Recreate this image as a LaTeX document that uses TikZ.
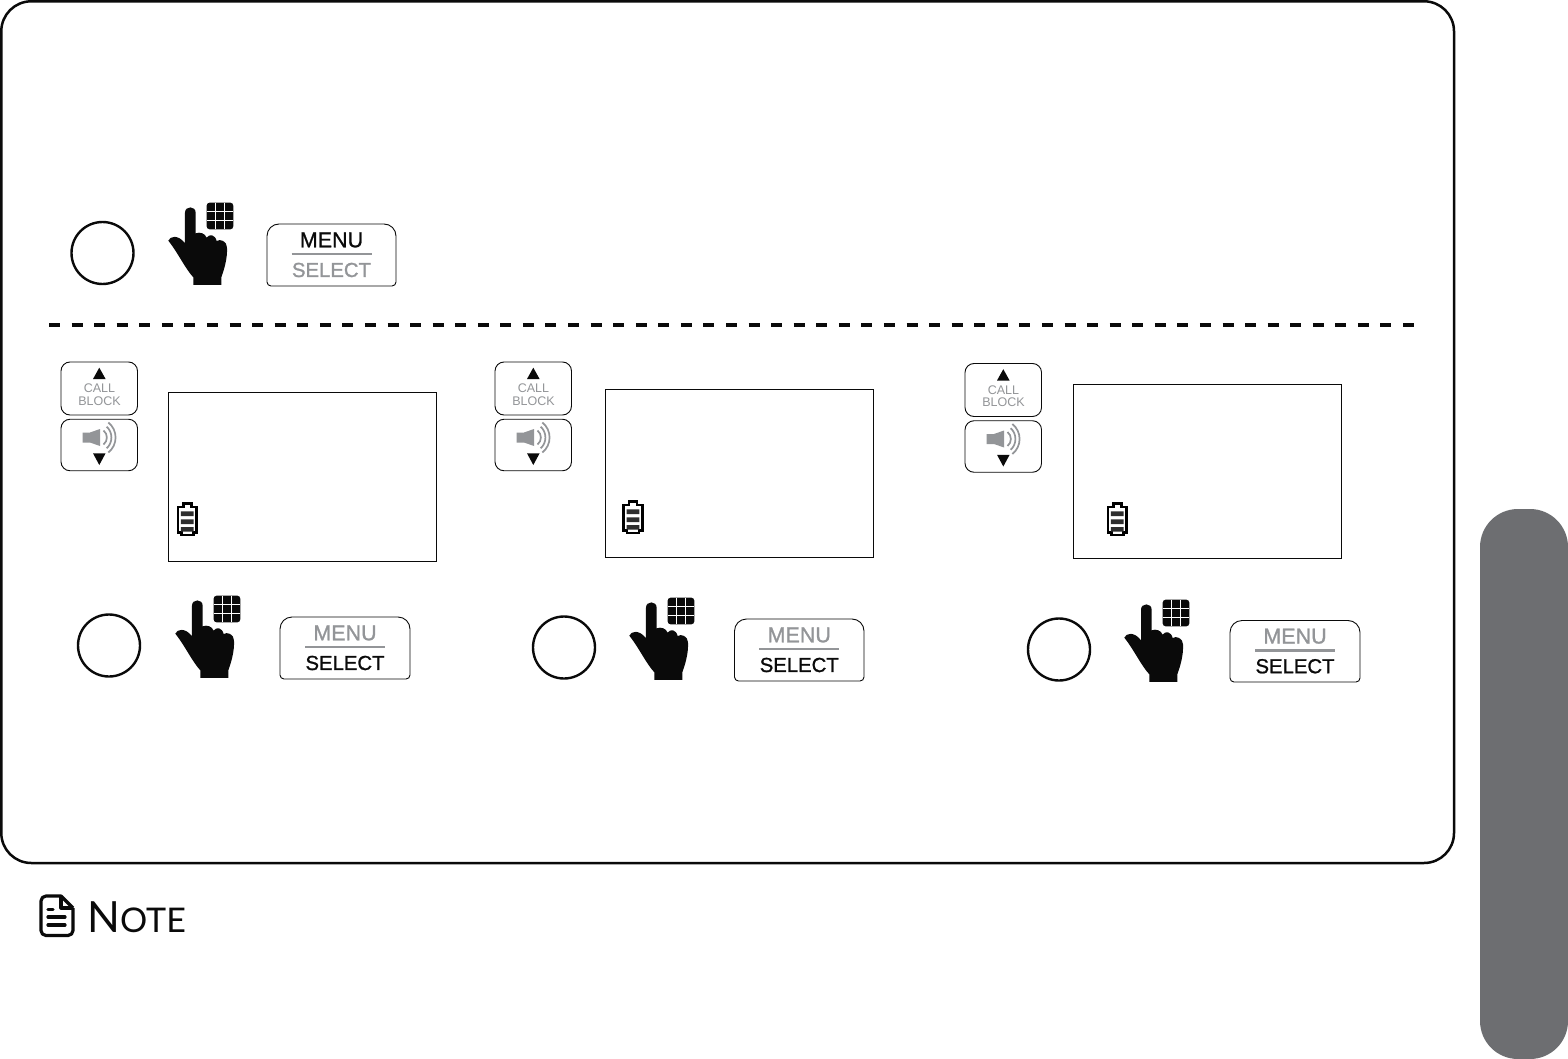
\documentclass[tikz,border=0pt]{standalone}
\usepackage{fontspec}
\setmainfont{Liberation Sans}
\newfontfamily\notefont{Lato}
\newfontfamily\keyfont[FakeBold=1.1]{Liberation Sans}
\definecolor{kgrey}{HTML}{939598}
\definecolor{tabgrey}{HTML}{6D6E71}
\definecolor{ink}{HTML}{0A0A0A}
\newcommand{\handicon}[2]{%
  \begin{scope}[shift={(#1,#2)},x=0.3333pt,y=-0.3333pt]
    \fill[ink] (405,68) .. controls (405,47) and (437,47) .. (437,68) -- (437,130)
      .. controls (450,125) and (465,130) .. (470,143)
      .. controls (478,131) and (495,133) .. (500,153)
      .. controls (510,146) and (531,153) .. (531,172)
      .. controls (533,205) and (522,240) .. (514,262)
      -- (514,285) -- (430,285) -- (430,262)
      .. controls (405,235) and (385,190) .. (355,152)
      .. controls (360,138) and (385,133) .. (405,160) -- cycle;
    \fill[ink,rounded corners=3pt] (470,38) rectangle (550,118);
    \draw[white,line width=1.1pt] (497,38) -- (497,118) (523,38) -- (523,118)
      (470,65) -- (550,65) (470,92) -- (550,92);
  \end{scope}}
\newcommand{\keybox}[6]{% name,x1,y1,x2,y2,labels
  \draw[keyline] (#2,#3+25) [rounded corners=12pt] -- (#2,#3) -- (#4,#3) -- (#4,#3+25)
    [rounded corners=4pt] -- (#4,#5) -- (#2,#5) -- cycle;
  \coordinate (#1) at ({(#2+#4)/2},{(#3+#5)/2});
  #6}
\newcommand{\menutop}[1]{%
  \node[menulabel,text=ink] (#1m) at ([yshift=15pt]#1) {MENU};
  \node[selectlabel,text=kgrey] (#1s) at ([yshift=-15pt]#1) {SELECT};
  \draw[kgrey,line width=2.6pt] ([xshift=-40pt,yshift=1pt]#1) -- ([xshift=40pt,yshift=1pt]#1);}
\newcommand{\menubot}[1]{%
  \node[menulabel,text=kgrey] (#1m) at ([yshift=15pt]#1) {MENU};
  \node[selectlabel,text=ink] (#1s) at ([yshift=-15pt]#1) {SELECT};
  \draw[kgrey,line width=2.6pt] ([xshift=-40pt,yshift=1pt]#1) -- ([xshift=40pt,yshift=1pt]#1);}
\newcommand{\navkeys}[3]{% name,x,y top
  \begin{scope}[shift={(#2,#3)}]
    \node[navbtn,minimum height=53pt] (#1u) at (38.25,26.5) {};
    \node[navbtn,minimum height=51.5pt] (#1d) at (38.25,83) {};
    \fill[ink] (38.3,5.7) -- (44.6,17) -- (32,17) -- cycle;
    \node[kgreytext] (#1t) at (38.5,32.5) {CALL\\BLOCK};
    \fill[kgrey] (21.5,70.5) -- (29,70.5) -- (39,67) -- (39,84) -- (29,80.5) -- (21.5,80.5) -- cycle;
    \draw[kgrey,line width=1.7pt] (42.5,68.5) .. controls (47,72) and (47,79) .. (42.5,82.5);
    \draw[kgrey,line width=1.7pt] (45.6,64.7) .. controls (52,70) and (52,81) .. (45.6,86.3);
    \draw[kgrey,line width=1.7pt] (47.3,60.5) .. controls (57,68) and (57,83) .. (47.3,90.5);
    \fill[ink] (38.3,103) -- (44.6,91.3) -- (32,91.3) -- cycle;
  \end{scope}}
\newcommand{\batt}[2]{%
  \begin{scope}[shift={(#1,#2)},x=0.3333pt,y=-0.3333pt]
    \draw[black,line width=2.5pt] (2,12) -- (18,12) -- (18,2) -- (42,2) -- (42,12) -- (58,12)
      -- (58,88) -- (48,88) -- (48,96) -- (12,96) -- (12,88) -- (2,88) -- cycle;
    \fill[black!82] (11,25) rectangle (49,39) (11,49) rectangle (49,63) (11,72) rectangle (49,86);
  \end{scope}}
\tikzset{
  keyline/.style={draw=ink,line width=0.9pt},
  screen/.style={draw=ink,line width=0.9pt,fill=white},
  ring/.style={circle,draw=ink,line width=2.4pt,minimum size=62pt,inner sep=0pt},
  menulabel/.style={font=\keyfont\fontsize{21.5}{21.5}\selectfont,inner sep=0pt},
  selectlabel/.style={font=\keyfont\fontsize{20.3}{20.3}\selectfont,inner sep=0pt},
  navbtn/.style={draw=ink,line width=0.9pt,rounded corners=9pt,minimum width=76.5pt,inner sep=0pt},
  kgreytext/.style={font=\fontsize{12.5}{12.5}\selectfont,text=kgrey,align=center,inner sep=0pt},
}
\begin{document}
\begin{tikzpicture}[x=1pt,y=-1pt]
\useasboundingbox (0,0) rectangle (1568,1059);
\fill[white] (0,0) rectangle (1568,1059);
% side tab
\fill[tabgrey,rounded corners=38pt] (1480,509) rectangle (1568,1059);
% main panel
\draw[ink,line width=2.5pt,rounded corners=30pt] (1.3,1.3) rectangle (1454,863);
\draw[ink,line width=3.2pt,dash pattern=on 11pt off 11.567pt] (49,325) -- (1414.5,325);
% first row
\node[ring] (c1) at (102.5,253) {};
\handicon{50}{190}
\keybox{k1}{267}{224}{396}{286}{\menutop{k1}}
% screens
\node[screen,minimum width=268pt,minimum height=168.5pt,inner sep=0pt] (s1) at (302.5,476.75) {};
\node[screen,minimum width=268pt,minimum height=168pt,inner sep=0pt] (s2) at (739.5,473.5) {};
\node[screen,minimum width=268pt,minimum height=173.5pt,inner sep=0pt] (s3) at (1207.5,471.25) {};
\batt{177.3}{503}
\batt{623}{501}
\batt{1107.3}{503}
\navkeys{n1}{61}{362}
\navkeys{n2}{495}{362}
\navkeys{n3}{965}{363.5}
% lower row
\node[ring] (c2) at (109,645.5) {};
\node[ring] (c3) at (564,647.5) {};
\node[ring] (c4) at (1059,649.5) {};
\handicon{57}{583}
\handicon{511}{585}
\handicon{1006}{587}
\keybox{k2}{280}{617}{410}{679}{\menubot{k2}}
\keybox{k3}{734.5}{619}{864}{681}{\menubot{k3}}
\keybox{k4}{1230}{620.5}{1360}{682}{\menubot{k4}}
% note
\begin{scope}[line width=3.2pt,ink,line join=round]
  \draw (73,908) -- (61,896) [rounded corners=5pt] -- (41,896) -- (41,935.5) -- (73,935.5) -- (73,908);
  \draw (61,896) -- (61,908) -- (73,908);
  \draw[line cap=round] (48,909.3) -- (53,909.3) (48,917) -- (65,917) (48,925) -- (65,925);
\end{scope}
\node[anchor=base west,inner sep=0pt,text=ink,font=\notefont] (note) at (87,932) {\fontsize{43}{43}\selectfont N\fontsize{34}{34}\selectfont OTE};
\end{tikzpicture}
\end{document}
